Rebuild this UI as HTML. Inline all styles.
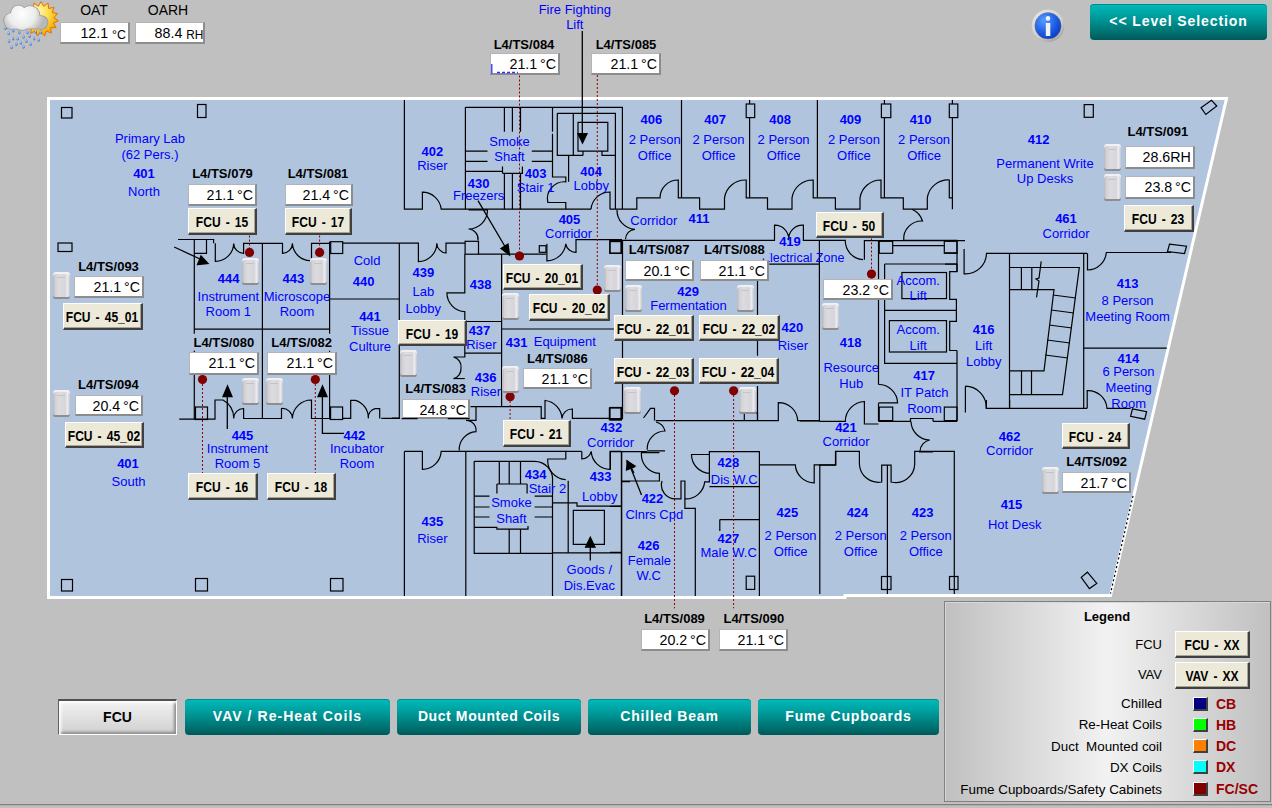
<!DOCTYPE html>
<html><head><meta charset="utf-8">
<style>
*{margin:0;padding:0;box-sizing:border-box}
html,body{width:1272px;height:808px;overflow:hidden;background:#c0c0c0;font-family:"Liberation Sans",sans-serif;position:relative}
.a{position:absolute}
svg{position:absolute;left:0;top:0}
.tb{position:absolute;background:#fff;border:1px solid #b4b4b4;border-right:2px solid #8c8c8c;border-bottom:2px solid #8c8c8c;color:#000;text-align:right;white-space:nowrap;overflow:hidden}
.tb i{font-style:normal;position:absolute;right:2px;top:1px;font-size:15px;line-height:18px;transform:scaleX(.95);transform-origin:100% 50%}
.fcu{position:absolute;background:#ece9d8;border-top:1px solid #fff;border-left:1px solid #fff;border-right:2px solid #404040;border-bottom:2px solid #404040;box-shadow:inset -1px -1px 0 #a8a498;color:#000;white-space:nowrap;text-align:center}
.fcu i{font-style:normal;position:absolute;left:50%;top:0;font-weight:bold;font-size:14px;line-height:26px;transform:translateX(-50%) scaleX(.86);word-spacing:2px}
.tbtn{position:absolute;top:699px;height:36px;border-radius:4px;background:linear-gradient(#00bcbc,#009898 40%,#006a6a 85%,#005858);box-shadow:inset 0 1px 0 #008c8c;color:#fff;font-weight:bold;font-size:14px;text-align:center;line-height:34px;letter-spacing:0.8px}
.sn{position:absolute;width:17px;height:27px;border-radius:3px 3px 2px 2px;background:linear-gradient(90deg,#b4b4b8,#d2d2d6 14%,#dcdce0 35%,#d6d6da 72%,#ececf2 86%,#c0c0c4);box-shadow:inset 0 2px 1px #f2f2f2,inset 0 -2px 0 #8e8e92}
.sn:after{content:"";position:absolute;left:4px;top:5px;width:8px;height:1px;background:#c4c4c8}
</style></head><body>
<svg width="1272" height="808" viewBox="0 0 1272 808">
<polygon points="48.5,98.5 1226.5,98.5 1110.5,595.5 845,595.5 845,597.5 48.5,597.5" fill="#b0c4de" stroke="#fff" stroke-width="3"/>
<path d="M1133,496 L1110.5,593.5" stroke="#000" stroke-width="1.2" stroke-dasharray="2,2.5"/>
<g fill="none" stroke="#000" stroke-width="1.2">
<path d="M178,239.5 H213.6 V243.3 M206.5,239.5 V253.3 H194.3 M194.3,240 V419.5"/>
<path d="M215.3,243.3 V261.4 A18.5,18.5 0 0 0 233.7,243.4 A10,10 0 0 0 243.6,253.3 V243.4 H282.5 V253.3 A10,10 0 0 0 292.4,243.4 A18,18 0 0 0 311.5,260.5 V243.4 H330.7"/>
<path d="M262.4,243.4 V419 M329.6,241.5 V419.5 M194.3,329.2 H329.6 M329.6,299 H399.3"/>
<path d="M179.2,419.2 H215 V400 H223 A20,20 0 0 1 233.7,418.4 A10,10 0 0 1 243.6,408.5 V418.5 H281.5 V408.5 A10,10 0 0 1 292.4,418.5 A19,19 0 0 1 311.5,400 V418.5 H330.6 M342.6,418.5 H350"/>
<path d="M342.7,243.2 H418.4 V261.6 A18.5,18.5 0 0 0 436.8,243.2 A10,10 0 0 0 446,253 V243.2 H465.1"/>
<path d="M399.3,243.2 V418.4 H392"/>
<path d="M464.8,254.2 V292.8 H446.9 A19,19 0 0 0 464.8,311.7 V353.2 H501.6 M464.8,321.5 H501.6"/>
<path d="M464.8,353.2 V357 H453.5 A10,10 0 0 1 461,368.3 A10,10 0 0 1 453.5,378.7 H464.8"/>
<path d="M478.6,254.2 H546 M501.6,254.2 V406.1"/>
<path d="M546.9,243.8 V260.8 A19,19 0 0 0 565.8,243.8 A10,10 0 0 0 576,252.3 V239.7 H622"/>
<path d="M501.6,329 H613.9 M622.5,240.7 V418.7 H609"/>
<path d="M404.4,100 V209.2 H422.4 V192.2 A19,19 0 0 1 441.2,209.2 H591 M610,209.2 H622.4"/>
<path d="M465.4,107.3 H622.4 V209.2 M465.4,107.3 V209.2"/>
<path d="M504.4,107.3 V131.8 M512.4,107.3 V131.8 M520.5,107.3 V131.8"/>
<path d="M465.4,151.2 H487.5 M465.4,161.4 H487.5 M531.8,151.2 H552.5 M531.8,161.4 H552.5"/>
<path d="M465.4,171.4 H502.5 V166.5 M502.5,173.3 H522.4 V166.5 M502.5,171.4 V173.3"/>
<path d="M504.4,173.3 V209.2 M512.4,173.3 V209.2 M520.5,173.3 V209.2"/>
<path d="M552.5,107.3 V131.8 M552.5,133.7 V177 H565.8 V181.8 A17,17 0 0 0 547.8,202.5 H565.8 V209.2"/>
<path d="M557.3,113.3 H615.4 V209.2 M557.3,113.3 V155.4 H583 M573.3,113.3 V155.4 M568.6,155.4 V181.8"/>
<path d="M578,122.4 H607.8 V151.2 H578 Z M583,151.2 V155.4 M602,151.2 V155.4 H615.4"/>
<path d="M591,209.2 A19,19 0 0 1 610,192 V209.2"/>
<path d="M468.6,209.8 H487.5 A19,19 0 0 1 468.6,229 A10,10 0 0 1 478,240.3"/>
<path d="M617,209.8 A19,19 0 0 0 635,229.3 A10,10 0 0 0 625.5,239.3"/>
<path d="M609.4,240.3 H774.5 V225.2 A14,14 0 0 1 788.7,240.3 A14,14 0 0 1 803.4,225.2 V240.3 H819.7"/>
<path d="M681.5,100 V197.8 M749.6,117.6 V197.8 M817.4,100 V197.8 M884.4,117.6 V197.8 M952.4,117.6 V209.2"/>
<path d="M749.6,100 V104 M884.4,100 V104 M952.4,100 V104"/>
<path d="M622.4,209.2 H636.8 V197.8 H660 A18,18 0 0 1 678.3,180 V197.8 H699.6 V209.2 H724.5 V197.8 A21,21 0 0 1 746.2,180 V197.8 H767.5 V209.2 H792 V197.8 A21,21 0 0 1 813.2,180 V197.8 H835.4 V209.2 H860 V197.8 A21,21 0 0 1 881,180 V197.8 H903.3 V209.2 H927.3 V197.8 A21,21 0 0 1 949.3,180 V197.8 H952.4"/>
<path d="M912,209.2 A19,19 0 0 1 922.5,221 A18,18 0 0 0 903.7,240.3 M903.7,240.3 H957.5"/>
<path d="M819.7,240.3 H845.3 A19,19 0 0 0 863,259.7 M864.4,259.7 V240.6 H878.5"/>
<path d="M878.5,240.6 H957 V271.7 M957,350.5 V421.3 M878.5,240.6 V384.5 M878.5,403.3 V421.3"/>
<path d="M892.7,245.6 H944.3 M884.6,264 H957 M884.6,264 V363.3 H957 M884.6,310.4 H956.4"/>
<path d="M957,264 V271.7 H949.7 V299.3 H956.4 V321.3 H949.7 V350.5 H957"/>
<path d="M878.5,384.5 A19,19 0 0 1 897.6,402.9 H878.5"/>
<path d="M878.5,421.3 H911 M933,421.3 H957 M910.5,421.3 V418.5 H933 V421.3"/>
<path d="M819.4,240 V421 H800 M769.2,264.2 H819.4 M757.5,279.3 V355.8 M757.5,386 V420.6"/>
<path d="M819.4,421.3 H845.3 A20,20 0 0 1 864.4,401.5 V424 H878.5"/>
<path d="M957.3,240.7 H965 M957.3,252.9 H945 M957.3,264.2 H945"/>
<path d="M964.1,249 V273.9 A21,21 0 0 0 986.5,253.3 H1087 M965.4,386.2 V412.6 M965.4,386.2 A21,21 0 0 1 986.2,408.3 H1087.2"/>
<path d="M1087.5,253.3 V270 A19,19 0 0 0 1106.3,252.5 H1171.4 M1083.7,253.3 V408.3 M1087.2,408.3 V390.6 A19,19 0 0 1 1107,408.3 H1130.6"/>
<path d="M1083.7,348.2 H1166.7"/>
<path d="M1009.5,253.3 V408.3 M1009.5,267.5 H1079.3 L1062.5,394.7 H1009.5 M1021.4,267.5 V289.7 M1031.8,267.5 V289.7 M1009.5,289.7 H1054 L1044,370.8 H1009.5"/>
<path d="M1021.5,370.8 V394.7 M1031.5,370.8 V394.7"/>
<path d="M1053,295 L1076,298 M1051,310 L1074,313 M1049,325 L1072,328 M1047,340 L1070,343 M1045,355 L1068,358"/>
<path d="M1041.2,261.4 L1039,278 L1036,279 L1039,281 L1036.5,297.3"/>
<path d="M819,465.1 H835.5 V451.3 H859.4 V464 A19,19 0 0 0 881.7,482 V465.1 H891.1 V482 A19,19 0 0 0 914.7,464.2 V451.3 H954.3 V594"/>
<path d="M819.8,465 V594 M887.4,465.1 V594"/>
<path d="M919,452 H933 M911,421.5 A19,19 0 0 0 929.8,440 A12,12 0 0 0 920,451.3"/>
<path d="M986.4,408 V400 M1009.6,408 V400"/>
<path d="M342.8,418.4 H350.7 V400.3 H355.4 A18,18 0 0 1 368.3,418.4 A9,9 0 0 1 375,408.6 H379.7 V418.4 M381.3,418.4 H399.4"/>
<path d="M399.2,418.4 H392 M470.5,406.7 H541.2 V418.4 H545 V400.5 A19,19 0 0 1 562,418.4 A10,10 0 0 1 572.4,409 V418.4 H610"/>
<path d="M565.8,451.4 H581.8"/>
<path d="M476,406.7 V420.3 H466 A10,10 0 0 1 476,431.6 A18,18 0 0 0 459.2,450.5"/>
<path d="M404.4,451.4 H422.4 V469.3 A19,19 0 0 0 441.2,451.4 H565.8 V459 H547.8 A19,19 0 0 0 565.8,479.7 M581.8,451.4 V459 A10,10 0 0 0 591.2,451.4 A19,19 0 0 0 610.1,469.3 V451.4 H621.4"/>
<path d="M404.4,451.4 V596 M465.8,451.4 V596"/>
<path d="M474.2,461.3 V553.4 H552.5 M474.2,461.3 H534.6 A18,18 0 0 1 552.5,480.7 V596"/>
<path d="M499.3,461.3 V484 M509.2,461.3 V484 M520.5,461.3 V484 M496.9,484 H527.1 M496.9,484 V493.4 M527.1,484 V493.4"/>
<path d="M474.2,496.2 H489.5 M474.2,507 H489.5 M474.2,517 H489.5 M534.6,496.2 H552.5 M534.6,507 H552.5 M534.6,517 H552.5"/>
<path d="M474.2,527.4 H496.9 V529.2 H528 V526 M509.2,529.2 V553.4 M520.5,529.2 V553.4"/>
<path d="M568.2,480.7 V552.8 M552.5,502.8 H577 V506.2 H621.4 M552.5,552.8 H621.4 M621.4,451.4 V596 M621.4,481.7 H630"/>
<path d="M573.3,510.4 H604.4 V544.3 H573.3 Z"/>
<path d="M609,418.7 H622.3 M655.7,420.6 H778.3 V402.6 A19,19 0 0 1 797.7,420.6 H819.8"/>
<path d="M643.5,418 L650.5,408.4 H654.5 V420.6"/>
<path d="M656,422 A12,12 0 0 1 665,431 A18,18 0 0 0 647.2,449.8 M647.2,450.8 H665"/>
<path d="M610.4,451.7 H647.2 M610.4,451.7 V469.6 M621.7,451.7 V596"/>
<path d="M659.4,452.6 H641.5 A19,19 0 0 0 659.4,473.4 V481 H621.7 M662,481 A14,14 0 0 0 675.5,498.9 H681 V481 H684.9 V508.3 H695.3 V596"/>
<path d="M684.9,498.9 A19,19 0 0 0 704.7,481.9 H709.4 V451.7 H759.4 V596 M709.4,486.6 H759.4"/>
<path d="M709.4,454.5 H691.5 A19,19 0 0 0 709.4,473.4"/>
<path d="M759.4,464.9 H795.3 A19,19 0 0 0 814.2,482.8 V464.9 H835.8 V451.7"/>
<path d="M719.8,519.6 H759.4 M719.8,519.6 V531 M621.7,506.4 H610 M621.7,552.3 H610"/>
<path d="M744.3,413 H757.5 V420.6 M744.3,413 V420.6"/>
<rect x="330.7" y="241.7" width="12" height="11.8"/>
<rect x="195.5" y="407" width="12" height="12.5"/>
<rect x="330.6" y="407" width="12" height="12.5"/>
<rect x="465.1" y="241.3" width="13.4" height="12.9"/>
<rect x="609.8" y="241.6" width="11.3" height="11.7"/>
<rect x="539.3" y="245.7" width="6.7" height="6.6"/>
<rect x="610" y="241" width="11.4" height="12.2"/>
<rect x="610" y="407.5" width="11.4" height="12.5"/>
<rect x="609.4" y="408" width="11.7" height="11.6"/>
<rect x="879.2" y="241.3" width="13.5" height="12"/>
<rect x="944.3" y="241.3" width="12.7" height="12"/>
<rect x="879.2" y="407.1" width="13.5" height="13.5"/>
<rect x="944.3" y="407.1" width="12.7" height="13.5"/>
<rect x="901.9" y="272.5" width="44.6" height="26.1"/>
<rect x="889.4" y="320.6" width="57.1" height="31.4"/>
<rect x="746.2" y="104" width="8.5" height="13.6"/>
<rect x="881.4" y="104" width="9.4" height="13.6"/>
<rect x="949.3" y="104" width="8.5" height="13.6"/>
<rect x="1084.2" y="104.6" width="9.1" height="12.7"/>
<rect x="61.5" y="107.5" width="10.5" height="10.5"/>
<rect x="197.5" y="104.5" width="8.5" height="13"/>
<rect x="58" y="243" width="14" height="8.5"/>
<rect x="61.5" y="579.5" width="11" height="11.5"/>
<rect x="195.5" y="578.5" width="12" height="12.5"/>
<rect x="330.5" y="578.5" width="12.5" height="12.5"/>
<rect x="746.2" y="576.2" width="8.5" height="13.2"/>
<rect x="881.5" y="576.5" width="9.5" height="13"/>
<rect x="949.5" y="576.5" width="8.5" height="13"/>
<polygon points="1201,107.7 1211.5,100.3 1216.8,106 1205.8,114.5"/>
<polygon points="1169.5,244.2 1186.5,246.2 1184.5,253.5 1167.5,251.5"/>
<polygon points="1132.5,408.9 1146.6,411.7 1144.7,419.2 1130.6,416.4"/>
<polygon points="1081.2,577.4 1087.4,572.2 1096.8,583.4 1089.4,588.6"/>
</g>
<g fill="#000" stroke="#000" stroke-width="1.3">
<path d="M174.2,247 L201,259.5"/><polygon points="197.5,264.5 208,263.5 201,256"/>
<path d="M227.3,429 V394"/><polygon points="223,396.5 232,396.5 227.5,386"/>
<path d="M322.4,394 V433.3 H344" fill="none"/><polygon points="318,396.5 327,396.5 322.5,386"/>
<path d="M582.3,31 V136"/><polygon points="578,133.7 587,133.7 582.5,143.1"/>
<path d="M478,200.7 L505,246.5"/><polygon points="501,248.6 509.5,255 508,244.2"/>
<path d="M590.3,560.4 V545"/><polygon points="585.6,547.2 595,547.2 590.3,537.2"/>
<path d="M641.5,495 L630,466"/><polygon points="627.4,461.1 626.5,470 634,467"/>
<path d="M634,473 L628.5,462"/><polygon points="627,461 635,466 628,468"/>
</g>
<g stroke="#8b0000" stroke-width="1" stroke-dasharray="2,2" fill="none">
<path d="M249.5,235.5 V252"/>
<path d="M319.6,235.5 V252"/>
<path d="M202.5,380 V473"/>
<path d="M315.3,380 V473"/>
<path d="M519.5,75.5 V256"/>
<path d="M597.3,75 V290"/>
<path d="M510.1,397 V420"/>
<path d="M871.5,238.5 V274"/>
<path d="M674.5,391 V608.3"/>
<path d="M733.6,391 V608.3"/>
</g><g fill="#800000">
<circle cx="249.5" cy="252.4" r="4.6"/>
<circle cx="319.6" cy="252.4" r="4.6"/>
<circle cx="202.5" cy="379.5" r="4.6"/>
<circle cx="315.3" cy="379.5" r="4.6"/>
<circle cx="519.5" cy="256" r="4.6"/>
<circle cx="597.3" cy="290" r="4.6"/>
<circle cx="510.1" cy="396.7" r="4.6"/>
<circle cx="871.5" cy="274.1" r="4.6"/>
<circle cx="674.5" cy="390.8" r="4.6"/>
<circle cx="733.6" cy="390.8" r="4.6"/>
</g>
<g fill="#0000ff" font-family="Liberation Sans" font-size="13" text-anchor="middle">
<text x="150" y="142.5">Primary Lab</text>
<text x="150" y="159">(62 Pers.)</text>
<text x="144" y="177.5" font-weight="bold">401</text>
<text x="144" y="196">North</text>
<text x="128" y="468.2" font-weight="bold">401</text>
<text x="128.5" y="486.3">South</text>
<text x="228.7" y="282.6" font-weight="bold">444</text>
<text x="228.3" y="300.75">Instrument</text>
<text x="228.3" y="316.3">Room 1</text>
<text x="293.4" y="282.6" font-weight="bold">443</text>
<text x="297" y="300.75">Microscope</text>
<text x="297" y="316.3">Room</text>
<text x="242.5" y="440" font-weight="bold">445</text>
<text x="237.5" y="452.6">Instrument</text>
<text x="237.5" y="467.7">Room 5</text>
<text x="354.4" y="440" font-weight="bold">442</text>
<text x="357" y="452.6">Incubator</text>
<text x="357" y="467.7">Room</text>
<text x="367" y="265.4">Cold</text>
<text x="363.7" y="286" font-weight="bold">440</text>
<text x="370" y="320.5" font-weight="bold">441</text>
<text x="370" y="335">Tissue</text>
<text x="370" y="351">Culture</text>
<text x="423.3" y="277" font-weight="bold">439</text>
<text x="423.3" y="296.4">Lab</text>
<text x="423.3" y="312.6">Lobby</text>
<text x="480.6" y="289.4" font-weight="bold">438</text>
<text x="479.5" y="335.3" font-weight="bold">437</text>
<text x="481.4" y="349.4">Riser</text>
<text x="485.6" y="381.9" font-weight="bold">436</text>
<text x="486" y="396">Riser</text>
<text x="516.7" y="346.6" font-weight="bold">431</text>
<text x="564.8" y="345.7">Equipment</text>
<text x="432.4" y="155.8" font-weight="bold">402</text>
<text x="432.4" y="170">Riser</text>
<text x="509.5" y="145.6">Smoke</text>
<text x="509.5" y="161.4">Shaft</text>
<text x="535.6" y="177.5" font-weight="bold">403</text>
<text x="535.6" y="191.6">Stair 1</text>
<text x="591.2" y="175.8" font-weight="bold">404</text>
<text x="591.2" y="189.7">Lobby</text>
<text x="478.6" y="187.5" font-weight="bold">430</text>
<text x="478.6" y="199.7">Freezers</text>
<text x="569.5" y="223.9" font-weight="bold">405</text>
<text x="568.6" y="237.5">Corridor</text>
<text x="653.8" y="224.8">Corridor</text>
<text x="699" y="222.5" font-weight="bold">411</text>
<text x="651.3" y="123.7" font-weight="bold">406</text>
<text x="654.6999999999999" y="143.7">2 Person</text>
<text x="654.6999999999999" y="159.5">Office</text>
<text x="715.1" y="123.7" font-weight="bold">407</text>
<text x="718.5" y="143.7">2 Person</text>
<text x="718.5" y="159.5">Office</text>
<text x="780.2" y="123.7" font-weight="bold">408</text>
<text x="783.6" y="143.7">2 Person</text>
<text x="783.6" y="159.5">Office</text>
<text x="850.5" y="123.7" font-weight="bold">409</text>
<text x="853.9" y="143.7">2 Person</text>
<text x="853.9" y="159.5">Office</text>
<text x="920.7" y="123.7" font-weight="bold">410</text>
<text x="924.1" y="143.7">2 Person</text>
<text x="924.1" y="159.5">Office</text>
<text x="1038.6" y="143.8" font-weight="bold">412</text>
<text x="1045" y="167.8">Permanent Write</text>
<text x="1045" y="183.1">Up Desks</text>
<text x="1066" y="223.4" font-weight="bold">461</text>
<text x="1066" y="237.9">Corridor</text>
<text x="790" y="246.3" font-weight="bold">419</text>
<text x="803" y="262.3" font-size="12.5">Electrical Zone</text>
<text x="688.1" y="296.3" font-weight="bold">429</text>
<text x="688.5" y="309.5">Fermentation</text>
<text x="792.3" y="332.2" font-weight="bold">420</text>
<text x="792.8" y="350.1">Riser</text>
<text x="918.2" y="284.5">Accom.</text>
<text x="918.2" y="300.3">Lift</text>
<text x="918.2" y="334.4">Accom.</text>
<text x="918.2" y="350.3">Lift</text>
<text x="850.7" y="347.4" font-weight="bold">418</text>
<text x="851.2" y="371.7">Resource</text>
<text x="851.2" y="387.6">Hub</text>
<text x="924.2" y="380.2" font-weight="bold">417</text>
<text x="924.5" y="396.5">IT Patch</text>
<text x="924.5" y="412.6">Room</text>
<text x="983.7" y="333.7" font-weight="bold">416</text>
<text x="983.7" y="349.5">Lift</text>
<text x="983.7" y="365.6">Lobby</text>
<text x="1127.6" y="287.8" font-weight="bold">413</text>
<text x="1127.6" y="304.8">8 Person</text>
<text x="1127.6" y="320.8">Meeting Room</text>
<text x="1128.4" y="362.6" font-weight="bold">414</text>
<text x="1128.4" y="375.7">6 Person</text>
<text x="1128.7" y="391.9">Meeting</text>
<text x="1128.7" y="407.5">Room</text>
<text x="846" y="432" font-weight="bold">421</text>
<text x="846" y="445.7">Corridor</text>
<text x="1009.6" y="440.6" font-weight="bold">462</text>
<text x="1009.6" y="454.5">Corridor</text>
<text x="1011.5" y="509.4" font-weight="bold">415</text>
<text x="1014.7" y="528.7">Hot Desk</text>
<text x="611.4" y="431.6" font-weight="bold">432</text>
<text x="610.5" y="446.7">Corridor</text>
<text x="535.6" y="478.8" font-weight="bold">434</text>
<text x="547.5" y="493">Stair 2</text>
<text x="511.4" y="507.1">Smoke</text>
<text x="511.4" y="523.1">Shaft</text>
<text x="600.7" y="481.2" font-weight="bold">433</text>
<text x="599.7" y="501.4">Lobby</text>
<text x="432.4" y="526.4" font-weight="bold">435</text>
<text x="432.4" y="543.4">Riser</text>
<text x="589.3" y="573.6">Goods /</text>
<text x="589.3" y="589.6">Dis.Evac</text>
<text x="652.5" y="502.6" font-weight="bold">422</text>
<text x="654.3" y="518.7">Clnrs Cpd</text>
<text x="648.7" y="550.2" font-weight="bold">426</text>
<text x="649.4" y="564.9">Female</text>
<text x="648.7" y="580">W.C</text>
<text x="728.3" y="466.8" font-weight="bold">428</text>
<text x="734.3" y="483.8">Dis W.C</text>
<text x="728.3" y="543.2" font-weight="bold">427</text>
<text x="728.7" y="557.4">Male W.C</text>
<text x="787.4" y="517.2" font-weight="bold">425</text>
<text x="790.6" y="539.5">2 Person</text>
<text x="790.6" y="555.5">Office</text>
<text x="857.5" y="517.2" font-weight="bold">424</text>
<text x="860.7" y="539.5">2 Person</text>
<text x="860.7" y="555.5">Office</text>
<text x="922.6" y="517.2" font-weight="bold">423</text>
<text x="925.8000000000001" y="539.5">2 Person</text>
<text x="925.8000000000001" y="555.5">Office</text>
<text x="574.8" y="13.5">Fire Fighting</text>
<text x="574.8" y="28.8">Lift</text>
</g>
<g fill="#000" font-family="Liberation Sans" font-size="13" font-weight="bold" text-anchor="middle">
<rect x="187.5" y="164.5" width="70" height="17" fill="#b0c4de"/><text x="222.5" y="177.5">L4/TS/079</text>
<rect x="283" y="164.5" width="70" height="17" fill="#b0c4de"/><text x="318" y="177.5">L4/TS/081</text>
<rect x="188.8" y="333.7" width="70" height="17" fill="#b0c4de"/><text x="223.8" y="346.7">L4/TS/080</text>
<rect x="266.6" y="333.7" width="70" height="17" fill="#b0c4de"/><text x="301.6" y="346.7">L4/TS/082</text>
<rect x="73.5" y="257.5" width="70" height="17" fill="#b0c4de"/><text x="108.5" y="270.5">L4/TS/093</text>
<rect x="73.4" y="375.9" width="70" height="17" fill="#b0c4de"/><text x="108.4" y="388.9">L4/TS/094</text>
<text x="524" y="48.7">L4/TS/084</text>
<text x="626" y="48.7">L4/TS/085</text>
<rect x="624.2" y="241.4" width="70" height="17" fill="#b0c4de"/><text x="659.2" y="254.4">L4/TS/087</text>
<rect x="699.3" y="241.4" width="70" height="17" fill="#b0c4de"/><text x="734.3" y="254.4">L4/TS/088</text>
<rect x="522.3" y="349.6" width="70" height="17" fill="#b0c4de"/><text x="557.3" y="362.6">L4/TS/086</text>
<rect x="400.6" y="379.5" width="70" height="17" fill="#b0c4de"/><text x="435.6" y="392.5">L4/TS/083</text>
<rect x="1122.8" y="122.80000000000001" width="70" height="17" fill="#b0c4de"/><text x="1157.8" y="135.8">L4/TS/091</text>
<rect x="1061.6" y="453" width="70" height="17" fill="#b0c4de"/><text x="1096.6" y="466">L4/TS/092</text>
<text x="674.5" y="622.5">L4/TS/089</text>
<text x="753.8" y="622.5">L4/TS/090</text>
</g>
</svg>
<div class="sn" style="left:242.2px;top:257.6px"></div>
<div class="sn" style="left:310px;top:257.6px"></div>
<div class="sn" style="left:241.5px;top:377.8px"></div>
<div class="sn" style="left:266.2px;top:377.8px"></div>
<div class="sn" style="left:53.2px;top:272px"></div>
<div class="sn" style="left:53.3px;top:389.7px"></div>
<div class="sn" style="left:502.2px;top:292.8px"></div>
<div class="sn" style="left:603.5px;top:264.5px"></div>
<div class="sn" style="left:624.5px;top:285px"></div>
<div class="sn" style="left:737.2px;top:285px"></div>
<div class="sn" style="left:400.3px;top:349.8px"></div>
<div class="sn" style="left:502.2px;top:366px"></div>
<div class="sn" style="left:822.4px;top:302.9px"></div>
<div class="sn" style="left:1104.3px;top:143.8px"></div>
<div class="sn" style="left:1104.3px;top:174px"></div>
<div class="sn" style="left:1041.5px;top:466.8px"></div>
<div class="sn" style="left:623.6px;top:386.6px"></div>
<div class="sn" style="left:738.7px;top:386.6px"></div>
<div class="tb" style="left:188.0px;top:184.0px;width:69.0px;height:22.0px"><i>21.1&#8201;°C</i></div>
<div class="tb" style="left:285.0px;top:184.0px;width:68.0px;height:22.0px"><i>21.4&#8201;°C</i></div>
<div class="tb" style="left:189.0px;top:352.4px;width:69.7px;height:22.2px"><i>21.1&#8201;°C</i></div>
<div class="tb" style="left:266.9px;top:352.4px;width:69.8px;height:22.2px"><i>21.1&#8201;°C</i></div>
<div class="tb" style="left:74.2px;top:276.4px;width:69.5px;height:22.0px"><i>21.1&#8201;°C</i></div>
<div class="tb" style="left:74.7px;top:394.5px;width:68.4px;height:21.3px"><i>20.4&#8201;°C</i></div>
<div class="tb" style="left:490.0px;top:53.4px;width:70.0px;height:22.1px"><i>21.1&#8201;°C</i></div>
<div class="tb" style="left:591.0px;top:52.5px;width:70.0px;height:22.5px"><i>21.1&#8201;°C</i></div>
<div class="tb" style="left:624.9px;top:259.5px;width:69.4px;height:21.7px"><i>20.1&#8201;°C</i></div>
<div class="tb" style="left:700.0px;top:259.5px;width:69.2px;height:21.7px"><i>21.1&#8201;°C</i></div>
<div class="tb" style="left:523.3px;top:368.3px;width:68.9px;height:20.7px"><i>21.1&#8201;°C</i></div>
<div class="tb" style="left:401.6px;top:398.6px;width:68.9px;height:20.7px"><i>24.8&#8201;°C</i></div>
<div class="tb" style="left:823.3px;top:278.5px;width:69.4px;height:21.8px"><i>23.2&#8201;°C</i></div>
<div class="tb" style="left:1125.1px;top:146.4px;width:69.5px;height:22.3px"><i>28.6RH</i></div>
<div class="tb" style="left:1125.1px;top:176.0px;width:69.5px;height:22.6px"><i>23.8&#8201;°C</i></div>
<div class="tb" style="left:1062.3px;top:471.7px;width:68.7px;height:21.8px"><i>21.7&#8201;°C</i></div>
<div class="tb" style="left:640.5px;top:628.5px;width:69.3px;height:22.0px"><i>20.2&#8201;°C</i></div>
<div class="tb" style="left:719.3px;top:628.5px;width:69.2px;height:22.0px"><i>21.1&#8201;°C</i></div>
<div class="fcu" style="left:188.0px;top:208.4px;width:69.0px;height:26.8px"><i>FCU - 15</i></div>
<div class="fcu" style="left:284.5px;top:208.4px;width:67.5px;height:26.8px"><i>FCU - 17</i></div>
<div class="fcu" style="left:63.1px;top:303.0px;width:79.8px;height:27.2px"><i>FCU - 45_01</i></div>
<div class="fcu" style="left:65.1px;top:421.6px;width:79.3px;height:26.4px"><i>FCU - 45_02</i></div>
<div class="fcu" style="left:187.9px;top:473.2px;width:69.7px;height:27.2px"><i>FCU - 16</i></div>
<div class="fcu" style="left:266.9px;top:473.2px;width:69.4px;height:27.2px"><i>FCU - 18</i></div>
<div class="fcu" style="left:398.4px;top:319.6px;width:68.3px;height:26.1px"><i>FCU - 19</i></div>
<div class="fcu" style="left:502.5px;top:263.6px;width:80.2px;height:26.0px"><i>FCU - 20_01</i></div>
<div class="fcu" style="left:529.3px;top:294.3px;width:80.4px;height:26.5px"><i>FCU - 20_02</i></div>
<div class="fcu" style="left:613.6px;top:314.6px;width:80.2px;height:26.4px"><i>FCU - 22_01</i></div>
<div class="fcu" style="left:699.4px;top:314.6px;width:80.2px;height:26.4px"><i>FCU - 22_02</i></div>
<div class="fcu" style="left:613.6px;top:357.6px;width:80.2px;height:26.4px"><i>FCU - 22_03</i></div>
<div class="fcu" style="left:698.5px;top:357.6px;width:80.2px;height:26.4px"><i>FCU - 22_04</i></div>
<div class="fcu" style="left:502.5px;top:420.3px;width:68.9px;height:26.8px"><i>FCU - 21</i></div>
<div class="fcu" style="left:816.0px;top:212.4px;width:67.9px;height:26.0px"><i>FCU - 50</i></div>
<div class="fcu" style="left:1124.0px;top:205.4px;width:69.5px;height:26.5px"><i>FCU - 23</i></div>
<div class="fcu" style="left:1061.7px;top:422.5px;width:67.9px;height:26.5px"><i>FCU - 24</i></div>
<svg width="1272" height="808" style="pointer-events:none"><path d="M401.6,418.6 H417.6 M447.8,418.6 H469.5" stroke="#000" stroke-width="1.2"/><path d="M491.8,64 V73.5" stroke="#2020ff" stroke-width="1.2"/><path d="M497,72.5 H518" stroke="#3030ff" stroke-width="1.6" stroke-dasharray="3,2"/></svg>
<!-- top widgets -->
<div class="a" style="left:94px;top:2px;transform:translateX(-50%);font-size:14px">OAT</div>
<div class="a" style="left:168px;top:2px;transform:translateX(-50%);font-size:14px">OARH</div>
<div class="tb" style="left:60px;top:22px;width:70px;height:22px"><i>12.1 <span style="font-size:13px;position:relative;top:1px">°C</span></i></div>
<div class="tb" style="left:135px;top:22px;width:70px;height:22px"><i style="right:0px">88.4 <span style="font-size:12.5px;position:relative;top:1px">RH</span></i></div>
<div class="tbtn" style="left:1090px;top:4px;width:177px;height:36px;letter-spacing:0.9px">&lt;&lt; Level Selection</div>
<!-- bottom buttons -->
<div class="a" style="left:58px;top:699px;width:119px;height:36px;border:1px solid #fff;border-top:2px solid #505050;border-left-color:#606060;background:linear-gradient(#f2f2f2,#d0d0d0);box-shadow:inset 2px 2px 3px #fff,inset -2px -2px 3px #888;text-align:center;font-weight:bold;font-size:14px;line-height:32px">FCU</div>
<div class="tbtn" style="left:185px;width:205px;letter-spacing:1.05px">VAV / Re-Heat Coils</div>
<div class="tbtn" style="left:397px;width:184px;letter-spacing:0.6px">Duct Mounted Coils</div>
<div class="tbtn" style="left:588px;width:163px;letter-spacing:0.8px">Chilled Beam</div>
<div class="tbtn" style="left:758px;width:181px;letter-spacing:0.8px">Fume Cupboards</div>
<!-- legend -->
<div class="a" style="left:944px;top:601px;width:327px;height:201px;border:1px solid #808080;box-shadow:inset 1px 1px 0 #d8d8d8;background:linear-gradient(90deg,#c0c0c0,#f2f2f2 50%,#c0c0c0)"></div>
<svg class="a" style="left:0;top:0" width="60" height="52" viewBox="0 0 60 52">
<defs>
<radialGradient id="sg" cx="35%" cy="30%" r="70%"><stop offset="0" stop-color="#fffad0"/><stop offset=".5" stop-color="#ffe050"/><stop offset="1" stop-color="#f0a800"/></radialGradient>
<radialGradient id="cg" gradientUnits="userSpaceOnUse" cx="22" cy="14" r="22"><stop offset="0" stop-color="#ffffff"/><stop offset=".6" stop-color="#ececec"/><stop offset="1" stop-color="#b8b8b8"/></radialGradient>
<radialGradient id="dr" cx="40%" cy="40%" r="60%"><stop offset="0" stop-color="#b0d8ff"/><stop offset="1" stop-color="#3a6ad8"/></radialGradient>
</defs>
<polygon points="41.0,1.5 43.7,6.3 48.1,3.0 48.6,8.5 54.0,7.3 52.3,12.5 57.6,13.6 53.9,17.6 58.4,20.8 53.4,23.0 56.2,27.7 50.7,27.7 51.3,33.2 46.3,30.9 44.6,36.1 41.0,32.0 37.4,36.1 35.7,30.9 30.7,33.2 31.3,27.7 25.8,27.8 28.6,23.0 23.6,20.8 28.1,17.6 24.4,13.6 29.7,12.5 28.0,7.3 33.4,8.5 33.9,3.0 38.3,6.3" fill="url(#sg)" stroke="#e87000" stroke-width="1"/>
<g fill="#9a9a9a"><circle cx="12" cy="21" r="8.8"/><circle cx="18.5" cy="13" r="8.3"/><circle cx="30" cy="15.5" r="10.3"/><circle cx="41" cy="22.5" r="7.3"/><circle cx="22" cy="22" r="8.8"/><rect x="5" y="20" width="41.5" height="9.3" rx="4"/></g>
<g fill="url(#cg)"><circle cx="12" cy="21" r="8"/><circle cx="18.5" cy="13" r="7.5"/><circle cx="30" cy="15.5" r="9.5"/><circle cx="41" cy="22.5" r="6.5"/><circle cx="22" cy="22" r="8"/><rect x="5.8" y="20" width="40" height="8.5" rx="4"/></g>
<path d="M5.5,25.9 C7.1,27.8 7.0,30.1 5.5,30.1 C4.0,30.1 3.9,27.8 5.5,25.9Z" fill="url(#dr)"/><path d="M13.2,28.2 C14.8,30.1 14.7,32.4 13.2,32.4 C11.7,32.4 11.6,30.1 13.2,28.2Z" fill="url(#dr)"/><path d="M19.3,30.1 C20.9,32.0 20.8,34.3 19.3,34.3 C17.8,34.3 17.7,32.0 19.3,30.1Z" fill="url(#dr)"/><path d="M27.4,30.1 C29.0,32.0 28.9,34.3 27.4,34.3 C25.9,34.3 25.8,32.0 27.4,30.1Z" fill="url(#dr)"/><path d="M35.7,29.5 C37.3,31.4 37.2,33.7 35.7,33.7 C34.2,33.7 34.1,31.4 35.7,29.5Z" fill="url(#dr)"/><path d="M40.6,30.1 C42.2,32.0 42.1,34.3 40.6,34.3 C39.1,34.3 39.0,32.0 40.6,30.1Z" fill="url(#dr)"/><path d="M8.7,31.1 C10.3,33.0 10.2,35.3 8.7,35.3 C7.2,35.3 7.1,33.0 8.7,31.1Z" fill="url(#dr)"/><path d="M29.6,33.7 C31.2,35.6 31.1,37.9 29.6,37.9 C28.1,37.9 28.0,35.6 29.6,33.7Z" fill="url(#dr)"/><path d="M23.5,34.6 C25.1,36.5 25.0,38.8 23.5,38.8 C22.0,38.8 21.9,36.5 23.5,34.6Z" fill="url(#dr)"/><path d="M13.2,36.2 C14.8,38.1 14.7,40.4 13.2,40.4 C11.7,40.4 11.6,38.1 13.2,36.2Z" fill="url(#dr)"/><path d="M17.7,36.2 C19.3,38.1 19.2,40.4 17.7,40.4 C16.2,40.4 16.1,38.1 17.7,36.2Z" fill="url(#dr)"/><path d="M34.1,36.2 C35.7,38.1 35.6,40.4 34.1,40.4 C32.6,40.4 32.5,38.1 34.1,36.2Z" fill="url(#dr)"/><path d="M38.6,37.5 C40.2,39.4 40.1,41.7 38.6,41.7 C37.1,41.7 37.0,39.4 38.6,37.5Z" fill="url(#dr)"/><path d="M9.0,38.8 C10.6,40.7 10.5,43.0 9.0,43.0 C7.5,43.0 7.4,40.7 9.0,38.8Z" fill="url(#dr)"/><path d="M26.4,38.8 C28.0,40.7 27.9,43.0 26.4,43.0 C24.9,43.0 24.8,40.7 26.4,38.8Z" fill="url(#dr)"/><path d="M20.9,40.4 C22.5,42.3 22.4,44.6 20.9,44.6 C19.4,44.6 19.3,42.3 20.9,40.4Z" fill="url(#dr)"/><path d="M16.4,41.7 C18.0,43.6 17.9,45.9 16.4,45.9 C14.9,45.9 14.8,43.6 16.4,41.7Z" fill="url(#dr)"/><path d="M30.6,41.7 C32.2,43.6 32.1,45.9 30.6,45.9 C29.1,45.9 29.0,43.6 30.6,41.7Z" fill="url(#dr)"/><path d="M11.6,44.9 C13.2,46.8 13.1,49.1 11.6,49.1 C10.1,49.1 10.0,46.8 11.6,44.9Z" fill="url(#dr)"/><path d="M23.5,44.6 C25.1,46.5 25.0,48.8 23.5,48.8 C22.0,48.8 21.9,46.5 23.5,44.6Z" fill="url(#dr)"/>
</svg><svg class="a" style="left:1030px;top:8px" width="36" height="36" viewBox="0 0 36 36">
<defs>
<radialGradient id="ig" cx="35%" cy="30%" r="75%"><stop offset="0" stop-color="#5a9cff"/><stop offset=".6" stop-color="#1e5ee6"/><stop offset="1" stop-color="#0a3cc0"/></radialGradient>
<radialGradient id="rg" cx="40%" cy="35%" r="70%"><stop offset="0" stop-color="#f8f8f8"/><stop offset=".75" stop-color="#cfcfcf"/><stop offset="1" stop-color="#9a9a9a"/></radialGradient>
</defs>
<circle cx="18" cy="17.8" r="16.3" fill="url(#rg)"/>
<circle cx="18" cy="17.8" r="13.2" fill="url(#ig)" stroke="#8a7a50" stroke-width=".4"/>
<circle cx="18" cy="10.4" r="2.3" fill="#f2f2f2"/>
<rect x="15.8" y="15" width="4.5" height="13" fill="#f2f2f2"/>
</svg><div class="a" style="left:1107px;top:609px;transform:translateX(-50%);font-weight:bold;font-size:13px;color:#000">Legend</div>
<div class="a" style="left:944px;width:218px;top:637px;text-align:right;font-size:13px;line-height:16px;color:#000">FCU</div>
<div class="a" style="left:944px;width:218px;top:667px;text-align:right;font-size:13px;line-height:16px;color:#000">VAV</div>
<div class="a" style="left:944px;width:218px;top:696px;text-align:right;font-size:13.4px;line-height:16px;color:#000">Chilled</div>
<div class="a" style="left:944px;width:218px;top:717px;text-align:right;font-size:13.4px;line-height:16px;color:#000">Re-Heat Coils</div>
<div class="a" style="left:944px;width:218px;top:739px;text-align:right;font-size:13.4px;line-height:16px;color:#000">Duct&nbsp; Mounted coil</div>
<div class="a" style="left:944px;width:218px;top:760px;text-align:right;font-size:13.4px;line-height:16px;color:#000">DX Coils</div>
<div class="a" style="left:944px;width:218px;top:782px;text-align:right;font-size:13.4px;line-height:16px;color:#000">Fume Cupboards/Safety Cabinets</div>
<div class="fcu" style="left:1175px;top:631px;width:75px;height:27px"><i>FCU - XX</i></div>
<div class="fcu" style="left:1175px;top:661.5px;width:75px;height:27px"><i>VAV - XX</i></div>
<div class="a" style="left:1193px;top:697px;width:15px;height:14px;background:#000080;border-top:1px solid #fff;border-left:1px solid #fff;border-right:2px solid #404040;border-bottom:2px solid #404040"></div><div class="a" style="left:1216px;top:696px;font-weight:bold;font-size:14px;line-height:16px;color:#990000">CB</div>
<div class="a" style="left:1193px;top:718px;width:15px;height:14px;background:#00ff00;border-top:1px solid #fff;border-left:1px solid #fff;border-right:2px solid #404040;border-bottom:2px solid #404040"></div><div class="a" style="left:1216px;top:717px;font-weight:bold;font-size:14px;line-height:16px;color:#990000">HB</div>
<div class="a" style="left:1193px;top:739px;width:15px;height:14px;background:#ff8000;border-top:1px solid #fff;border-left:1px solid #fff;border-right:2px solid #404040;border-bottom:2px solid #404040"></div><div class="a" style="left:1216px;top:738px;font-weight:bold;font-size:14px;line-height:16px;color:#990000">DC</div>
<div class="a" style="left:1193px;top:760px;width:15px;height:14px;background:#00ffff;border-top:1px solid #fff;border-left:1px solid #fff;border-right:2px solid #404040;border-bottom:2px solid #404040"></div><div class="a" style="left:1216px;top:759px;font-weight:bold;font-size:14px;line-height:16px;color:#990000">DX</div>
<div class="a" style="left:1193px;top:782px;width:15px;height:14px;background:#800000;border-top:1px solid #fff;border-left:1px solid #fff;border-right:2px solid #404040;border-bottom:2px solid #404040"></div><div class="a" style="left:1216px;top:781px;font-weight:bold;font-size:14px;line-height:16px;color:#990000">FC/SC</div>
<div class="a" style="left:0;top:804px;width:1272px;height:1px;background:#808080"></div><div class="a" style="left:0;top:805px;width:1272px;height:1px;background:#b0b0b0"></div>

</body></html>
